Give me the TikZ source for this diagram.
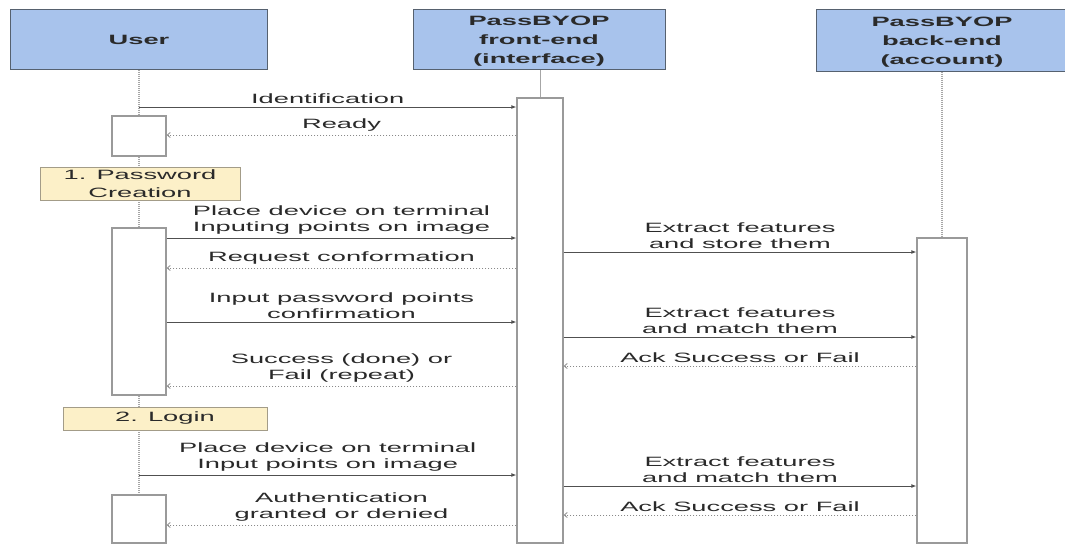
\documentclass[tikz,border=0pt]{standalone}
\usepackage{fontspec}
\setmainfont{Liberation Sans}[FakeStretch=2.02]
\usetikzlibrary{arrows.meta,backgrounds}
\definecolor{hdrfill}{HTML}{A8C3EC}
\definecolor{hdrline}{HTML}{56616F}
\definecolor{notefill}{HTML}{FCF0C8}
\definecolor{noteline}{HTML}{A39C88}
\definecolor{actline}{HTML}{9A9A9A}
\definecolor{txt}{HTML}{2A2A2A}
\definecolor{msgline}{HTML}{505050}
\definecolor{retline}{HTML}{8A8A8A}
\begin{document}
\begin{tikzpicture}[x=1pt,y=-1pt,
  every node/.style={font=\fontsize{13.5}{16}\selectfont, text=txt},
  head/.style={draw=hdrline, fill=hdrfill, line width=1pt, inner sep=0pt},
  headtext/.style={align=center, inner sep=0pt, font=\fontsize{13.5}{19}\selectfont\bfseries},
  act/.style={draw=actline, fill=white, line width=1.3pt, inner sep=0pt},
  notebox/.style={draw=noteline, fill=notefill, line width=0.9pt, align=center, inner sep=0pt},
  lifedot/.style={draw=gray!70, line width=1.2pt, dash pattern=on 1pt off 1pt},
  lifesolid/.style={draw=gray!70, line width=0.8pt},
  msg/.style={draw=msgline, line width=0.9pt, -{Latex[length=5pt,width=4pt]}},
  ret/.style={draw=retline, line width=0.8pt, dash pattern=on 1.5pt off 1.5pt, -{Straight Barb[length=3pt,width=5pt]}},
  lbl/.style={align=center, inner sep=0pt, midway, above=3pt}
]
\useasboundingbox (0,0) rectangle (1065,544);

% headers
\node[head, minimum width=257pt, minimum height=60pt] (hu) at (138.5,39) {};
\node[headtext] (hut) at (139,40) {User};
\node[head, minimum width=252pt, minimum height=60pt] (hf) at (539,39) {};
\node[headtext] (hft) at (539,41.5) {PassBYOP\\front-end\\(interface)};
\node[head, minimum width=252pt, minimum height=62pt] (hb) at (942,40) {};
\node[headtext] (hbt) at (942,42) {PassBYOP\\back-end\\(account)};

% activation boxes and notes
\node[act, minimum width=54pt, minimum height=40pt] (ua1) at (139,136) {};
\node[act, minimum width=54pt, minimum height=167pt] (ua2) at (139,311.5) {};
\node[act, minimum width=54pt, minimum height=48pt] (ua3) at (139,519) {};
\node[act, minimum width=46pt, minimum height=445pt] (fa) at (540,320.5) {};
\node[act, minimum width=50pt, minimum height=305pt] (ba) at (942,390.5) {};
\node[notebox, minimum width=200pt, minimum height=33pt] (n1) at (140,183.5) {1. Password\\[2pt]Creation};
\node[notebox, minimum width=204pt, minimum height=23pt] (n2) at (165,418.5) {2. Login};

% lifelines (behind boxes)
\begin{scope}[on background layer]
\draw[lifedot] (ua1.north |- hu.south) -- (ua1.north);
\draw[lifedot] (ua1.south) -- (ua1.south |- n1.north);
\draw[lifedot] (ua2.north |- n1.south) -- (ua2.north);
\draw[lifedot] (ua2.south) -- (ua2.south |- n2.north);
\draw[lifedot] (ua3.north |- n2.south) -- (ua3.north);
\draw[lifesolid] (fa.north |- hf.south) -- (fa.north);
\draw[lifedot] (ba.north |- hb.south) -- (ba.north);
\end{scope}

% messages: user <-> front-end
\draw[msg] (ua1.north |- 0,107) -- (fa.west |- 0,107) node[lbl] (m1) {Identification};
\draw[ret] (fa.west |- 0,135) -- (ua1.east |- 0,135) node[lbl] (m2) {Ready};
\draw[msg] (ua2.east |- 0,238) -- (fa.west |- 0,238) node[lbl] (m3) {Place device on terminal\\Inputing points on image};
\draw[ret] (fa.west |- 0,268) -- (ua2.east |- 0,268) node[lbl] (m4) {Request conformation};
\draw[msg] (ua2.east |- 0,322) -- (fa.west |- 0,322) node[lbl] (m5) {Input password points\\confirmation};
\draw[ret] (fa.west |- 0,386) -- (ua2.east |- 0,386) node[lbl] (m6) {Success (done) or\\Fail (repeat)};
\draw[msg] (ua3.north |- 0,475) -- (fa.west |- 0,475) node[lbl] (m7) {Place device on terminal\\Input points on image};
\draw[ret] (fa.west |- 0,525) -- (ua3.east |- 0,525) node[lbl] (m8) {Authentication\\granted or denied};

% messages: front-end <-> back-end
\draw[msg] (fa.east |- 0,252) -- (ba.west |- 0,252) node[lbl] (b1) {Extract features\\and store them};
\draw[msg] (fa.east |- 0,337) -- (ba.west |- 0,337) node[lbl] (b2) {Extract features\\and match them};
\draw[ret] (ba.west |- 0,366) -- (fa.east |- 0,366) node[lbl] (b3) {Ack Success or Fail};
\draw[msg] (fa.east |- 0,486) -- (ba.west |- 0,486) node[lbl] (b4) {Extract features\\and match them};
\draw[ret] (ba.west |- 0,515) -- (fa.east |- 0,515) node[lbl] (b5) {Ack Success or Fail};
\end{tikzpicture}
\end{document}
